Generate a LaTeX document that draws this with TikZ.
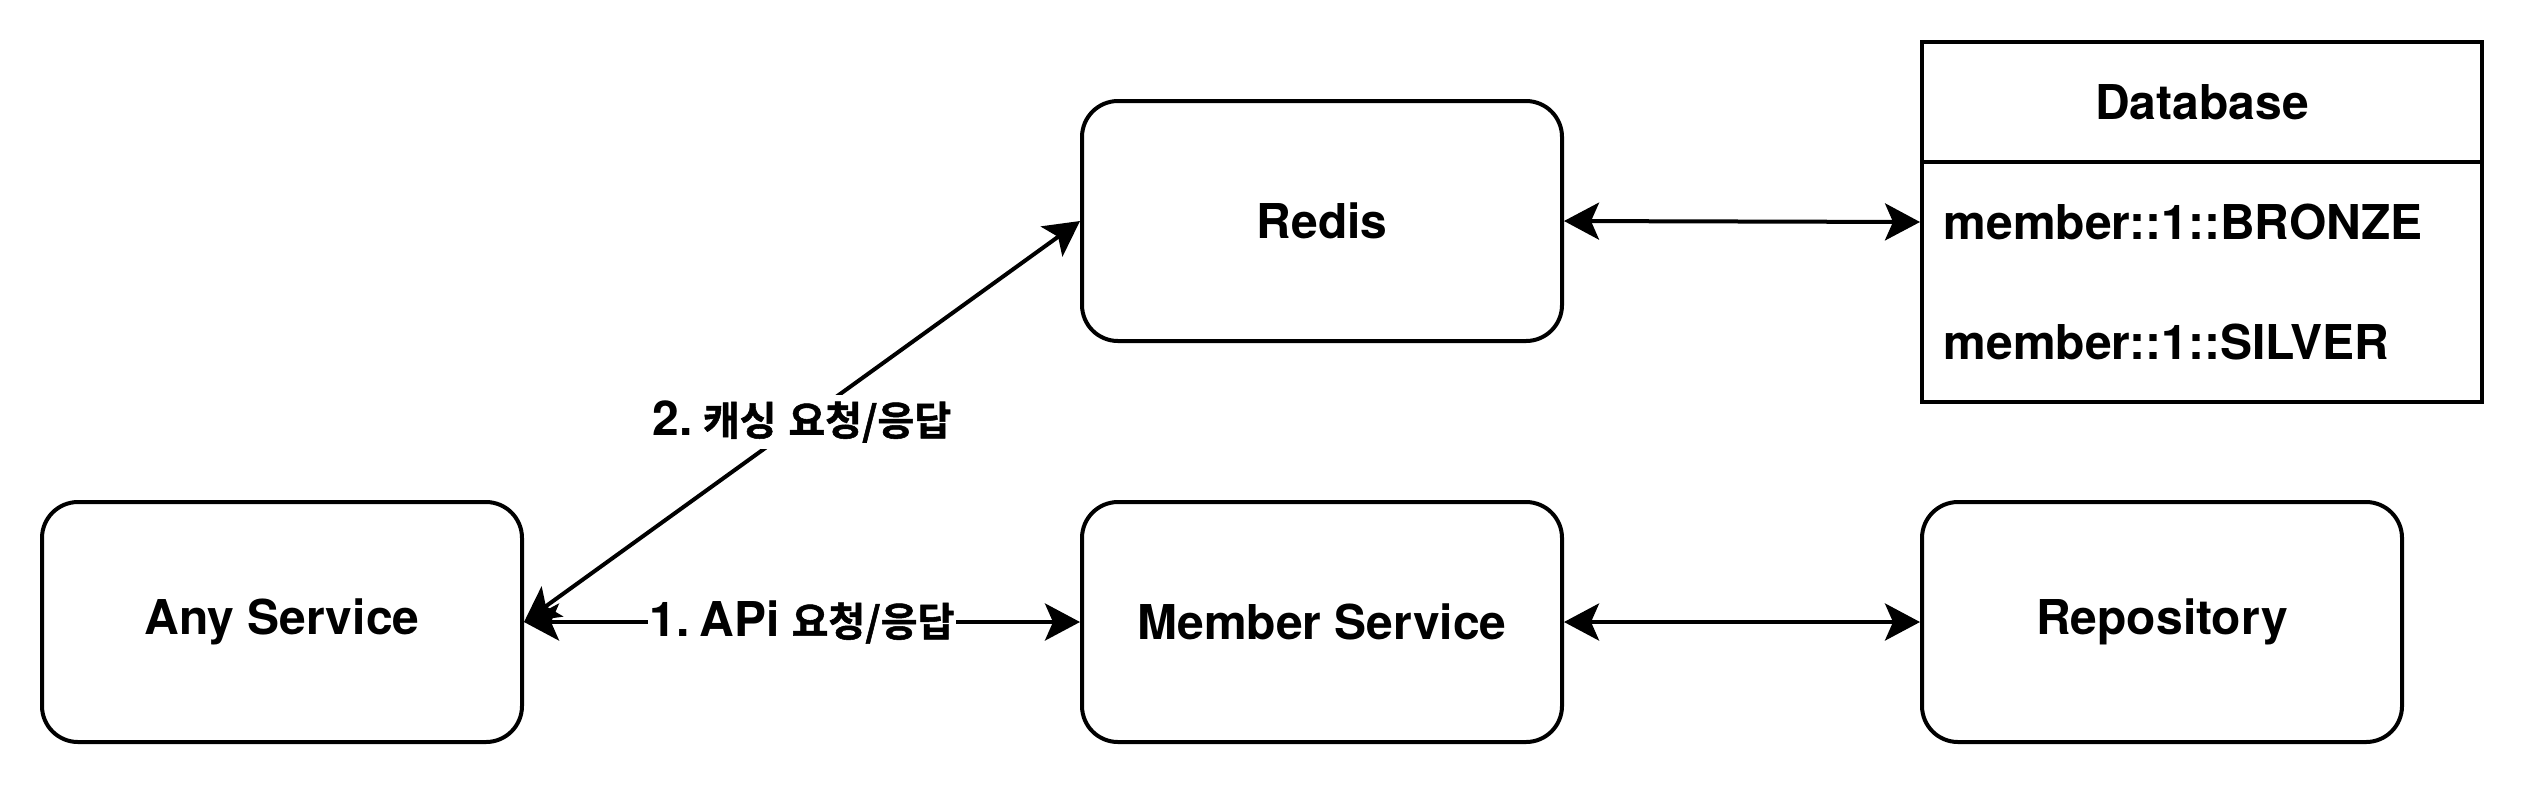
\documentclass[tikz,border=0pt]{standalone}
\usepackage{fontspec}
\setmainfont{TeX Gyre Heros}
\newfontfamily\kr{Noto Sans CJK KR Bold}[FakeBold=1.3]
\usetikzlibrary{arrows.meta}
\newcommand\ko[1]{{\kr\mdseries\fontsize{10pt}{11pt}\selectfont #1}}
\begin{document}
\begin{tikzpicture}[x=0.25pt,y=-0.25pt,
  font=\bfseries\fontsize{12pt}{14pt}\selectfont,
  box/.style={draw, line width=1pt, rounded corners=9pt, minimum width=120pt, minimum height=60pt, inner sep=0pt},
  tbl/.style={draw, line width=1pt, minimum width=140pt, minimum height=90pt, inner sep=0pt},
  conn/.style={line width=1pt, {Stealth[length=8.75pt,width=9.25pt,inset=2pt]}-{Stealth[length=8.75pt,width=9.25pt,inset=2pt]}},
  lbl/.style={fill=white, inner xsep=0.5pt, inner ysep=1.5pt},
  row/.style={anchor=west, inner sep=0pt}]
\useasboundingbox (0,0) rectangle (2524,784);

\node[box] (any) at (282,622) {Any Service};
\node[box] (member) at (1322,622) {Member Service};
\node[box] (repo) at (2162,622) {Repository};
\node[box] (redis) at (1322,221) {Redis};

\node[tbl] (db) at (2202,222) {};
\coordinate (dbsep) at (2202,162);
\draw[line width=1pt] (db.west |- dbsep) -- (db.east |- dbsep);
\node (dbtitle) at (2202,102) {Database};
\node[row] (r1) at (1943,222) {member::1::BRONZE};
\node[row] (r2) at (1943,342) {member::1::SILVER};

\draw[conn] (any.east) -- node[lbl] {1.\hspace{2.5pt}APi\hspace{3pt}\ko{요청/응답}} (member.west);
\draw[conn] (any.east) -- node[lbl] {2.\hspace{2.5pt}\ko{캐싱}\hspace{3pt}\ko{요청/응답}} (redis.west);
\draw[conn] (redis.east) -- (db.west);
\draw[conn] (member.east) -- (repo.west);
\end{tikzpicture}
\end{document}
